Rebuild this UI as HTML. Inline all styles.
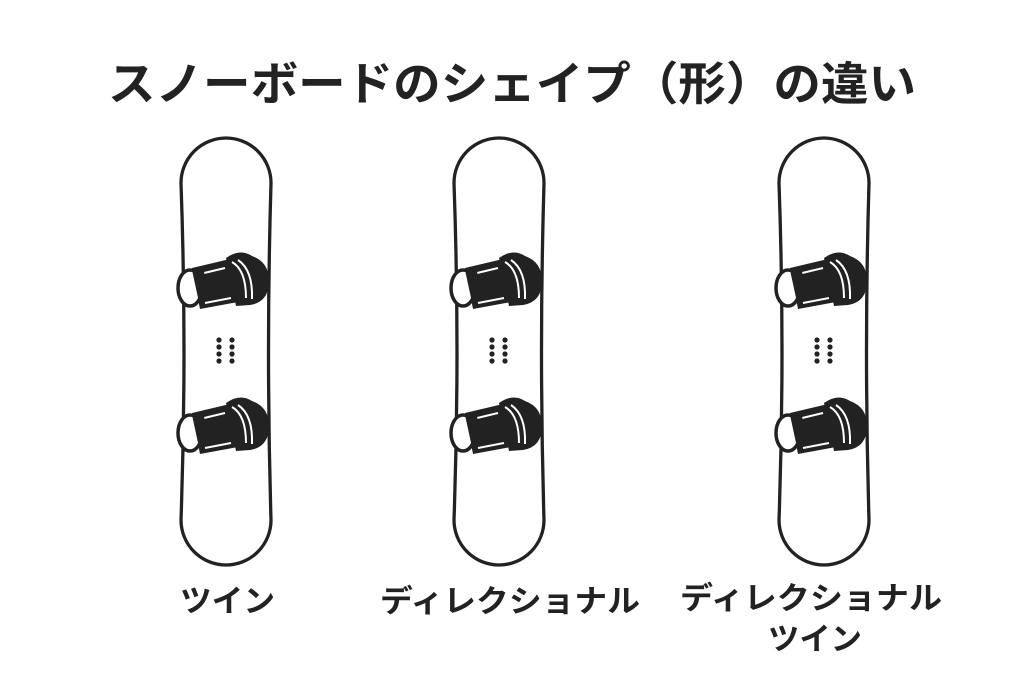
<!DOCTYPE html>
<html><head><meta charset="utf-8"><style>
html,body{margin:0;padding:0;background:#fff}
svg{display:block}
text{font-family:"Liberation Sans","Noto Sans CJK JP",sans-serif;font-weight:bold;fill:#222}
</style></head><body>
<svg width="1024" height="683" viewBox="0 0 1024 683" xmlns="http://www.w3.org/2000/svg">
<defs>
<g id="bind">
  <path d="M192,268 L230,259 L238,302 L200,309 Z" fill="#222"/>
  <path d="M226,258 Q240,248 252,256 Q269,262 269,281 Q269,302 250,305 L236,306 Z" fill="#222"/>
  <path d="M232,262 Q246,270 246,298" stroke="#fff" stroke-width="2" fill="none"/>
  <path d="M238,260 Q253,270 252,299" stroke="#fff" stroke-width="2" fill="none"/>
  <path d="M200,274 L225,268" stroke="#fff" stroke-width="2"/>
  <path d="M205,303 L231,298" stroke="#fff" stroke-width="2"/>
  <ellipse cx="190" cy="288" rx="12" ry="18" fill="#fff" stroke="#222" stroke-width="3.5"/>
  <path d="M192,270 L200,307 Q212,300 203,268 Z" fill="#222"/>
</g>
<g id="board">
  <path d="M181,183 A45,45 0 0 1 271,183 Q266,352 271,520 A45,45 0 0 1 181,520 Q187,352 181,183 Z" fill="#fff" stroke="#222" stroke-width="3.3"/>
  <use href="#bind"/>
  <use href="#bind" transform="translate(0,145)"/>
  <g fill="#222">
    <circle cx="219" cy="340" r="2.6"/><circle cx="219" cy="347" r="2.6"/><circle cx="219" cy="354" r="2.6"/><circle cx="219" cy="361" r="2.6"/>
    <circle cx="232" cy="340" r="2.6"/><circle cx="232" cy="347" r="2.6"/><circle cx="232" cy="354" r="2.6"/><circle cx="232" cy="361" r="2.6"/>
  </g>
</g>
</defs>
<text x="108" y="100" font-size="46" textLength="808" lengthAdjust="spacingAndGlyphs">スノーボードのシェイプ（形）の違い</text>
<use href="#board"/>
<use href="#board" transform="translate(273,0)"/>
<use href="#board" transform="translate(598,0)"/>
<text x="180" y="612" font-size="31" textLength="95" lengthAdjust="spacingAndGlyphs">ツイン</text>
<text x="380" y="612" font-size="31" textLength="260" lengthAdjust="spacingAndGlyphs">ディレクショナル</text>
<text x="680" y="609" font-size="31" textLength="262" lengthAdjust="spacingAndGlyphs">ディレクショナル</text>
<text x="768" y="650" font-size="31" textLength="94" lengthAdjust="spacingAndGlyphs">ツイン</text>
</svg>
</body></html>
